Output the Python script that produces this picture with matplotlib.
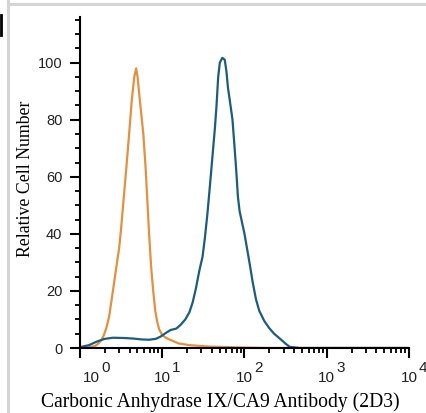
import numpy as np
import matplotlib
matplotlib.use("Agg")
import matplotlib.pyplot as plt
import matplotlib.transforms as mtransforms
from matplotlib.lines import Line2D
from matplotlib.ticker import FixedLocator, NullFormatter

plt.rcParams["font.family"] = ["Liberation Sans", "DejaVu Sans"]

# isotype control (orange): log10 intensity, relative count
iso_log = [0.0, 0.10, 0.17, 0.20, 0.23, 0.26, 0.29, 0.32, 0.354, 0.385, 0.415,
           0.445, 0.476, 0.50, 0.53, 0.56, 0.60, 0.63, 0.66, 0.683, 0.70, 0.72,
           0.745, 0.77, 0.80, 0.82, 0.84, 0.866, 0.89, 0.915, 0.94, 0.963, 1.0,
           1.05, 1.1, 1.2, 1.33, 1.57, 1.94, 2.3, 4.0]
iso_cnt = [0.0, 0.2, 0.6, 1.0, 1.8, 2.8, 4.5, 7, 11, 17, 23,
           29, 35, 42, 52, 62, 76, 87, 95, 98, 95, 89,
           82, 75, 62, 51, 40, 28, 20, 13, 9, 6.5, 4.5,
           3.5, 2.8, 1.6, 1.0, 0.5, 0.2, 0.0, 0.0]

# CA9 antibody (blue)
ab_log = [0.0, 0.11, 0.2, 0.3, 0.4, 0.54, 0.65, 0.75, 0.84, 0.92, 0.98, 1.04,
          1.1, 1.17, 1.22, 1.28, 1.33, 1.37, 1.41, 1.45, 1.49, 1.52, 1.549,
          1.58, 1.61, 1.64, 1.66, 1.68, 1.70, 1.73, 1.76, 1.78, 1.80, 1.82,
          1.854, 1.88, 1.90, 1.92, 1.94, 1.97, 2.0, 2.03, 2.06, 2.10, 2.14,
          2.18, 2.24, 2.30, 2.36, 2.43, 2.5, 2.55, 2.67, 4.0]
ab_cnt = [0.3, 1.0, 2.2, 3.2, 3.6, 3.5, 3.3, 3.0, 2.9, 3.2, 4.0, 5.2,
          6.3, 6.8, 8, 10, 12.5, 16, 21, 27, 32, 39, 47,
          57, 67, 77, 85, 95, 100, 101.7, 101, 97, 91, 87,
          80, 70, 62, 53, 48, 44, 40, 35, 30, 23, 17,
          13, 9.5, 7, 5, 3.3, 1.5, 0.4, 0.0, 0.0]

x_major = [1, 10, 100, 1000, 10000]
x_exps = ["0", "1", "2", "3", "4"]
y_major = [0, 20, 40, 60, 80, 100]

fig = plt.figure(figsize=(4.27, 4.13), dpi=100)
ax = fig.add_axes([80 / 427, 65 / 413, 329 / 427, 331 / 413])

ax.plot(10 ** np.array(iso_log), iso_cnt, color="#E3913F", lw=1.6)
ax.plot(10 ** np.array(ab_log), ab_cnt, color="#1D5C7E", lw=1.6)

ax.set_xscale("log")
ax.set_xlim(1, 10000)
ax.set_ylim(0, 116)

ax.xaxis.set_major_locator(FixedLocator(x_major))
ax.set_xticklabels(["10"] * len(x_major))
minors = [m * 10 ** d for d in range(4) for m in range(2, 10)]
ax.xaxis.set_minor_locator(FixedLocator(minors))
ax.xaxis.set_minor_formatter(NullFormatter())
ax.yaxis.set_major_locator(FixedLocator(y_major))
ax.yaxis.set_minor_locator(FixedLocator(list(range(5, 116, 5))))

for s in ["top", "right"]:
    ax.spines[s].set_visible(False)
for s in ["left", "bottom"]:
    ax.spines[s].set_linewidth(1.5)

ax.tick_params(axis="both", which="major", direction="out", width=1.5,
               color="black", labelcolor="#222222")
ax.tick_params(axis="x", which="major", length=7.2, pad=9, labelsize=11)
ax.tick_params(axis="y", which="major", length=7.2, pad=5.5, labelsize=10.5)
ax.tick_params(axis="both", which="minor", direction="out", length=3.6, width=1.3)

# first decade label sits right of the y axis
shift = mtransforms.ScaledTranslation(8 / 72, 0, fig.dpi_scale_trans)
lab0 = ax.get_xticklabels()[0]
lab0.set_transform(lab0.get_transform() + shift)

# exponents
for i, (xv, e) in enumerate(zip(x_major, x_exps)):
    dx = 15.5 if i == 0 else 6.8
    ax.annotate(e, xy=(xv, 0), xycoords=("data", "axes fraction"),
                xytext=(dx, -9), textcoords="offset points",
                ha="left", va="top", fontsize=11, color="#222222")

ax.set_xlabel("Carbonic Anhydrase IX/CA9 Antibody (2D3)", family="Liberation Serif",
              fontsize=14.1)
ax.xaxis.set_label_coords(0.426, -0.135)
ax.set_ylabel("Relative Cell Number", family="Liberation Serif", fontsize=12.8)
ax.yaxis.set_label_coords(-0.14, 0.51)

# panel frame bits
fig.add_artist(Line2D([8 / 427, 1], [1 - 4 / 413, 1 - 4 / 413], color="#d4d4d4", lw=2.2))
fig.add_artist(Line2D([8 / 427, 8 / 427], [0, 1], color="#d4d4d4", lw=2.2))
fig.add_artist(Line2D([1 / 427, 1 / 427], [1 - 15 / 413, 1 - 35 / 413], color="black", lw=2))

fig.savefig("out.png", dpi=100)
